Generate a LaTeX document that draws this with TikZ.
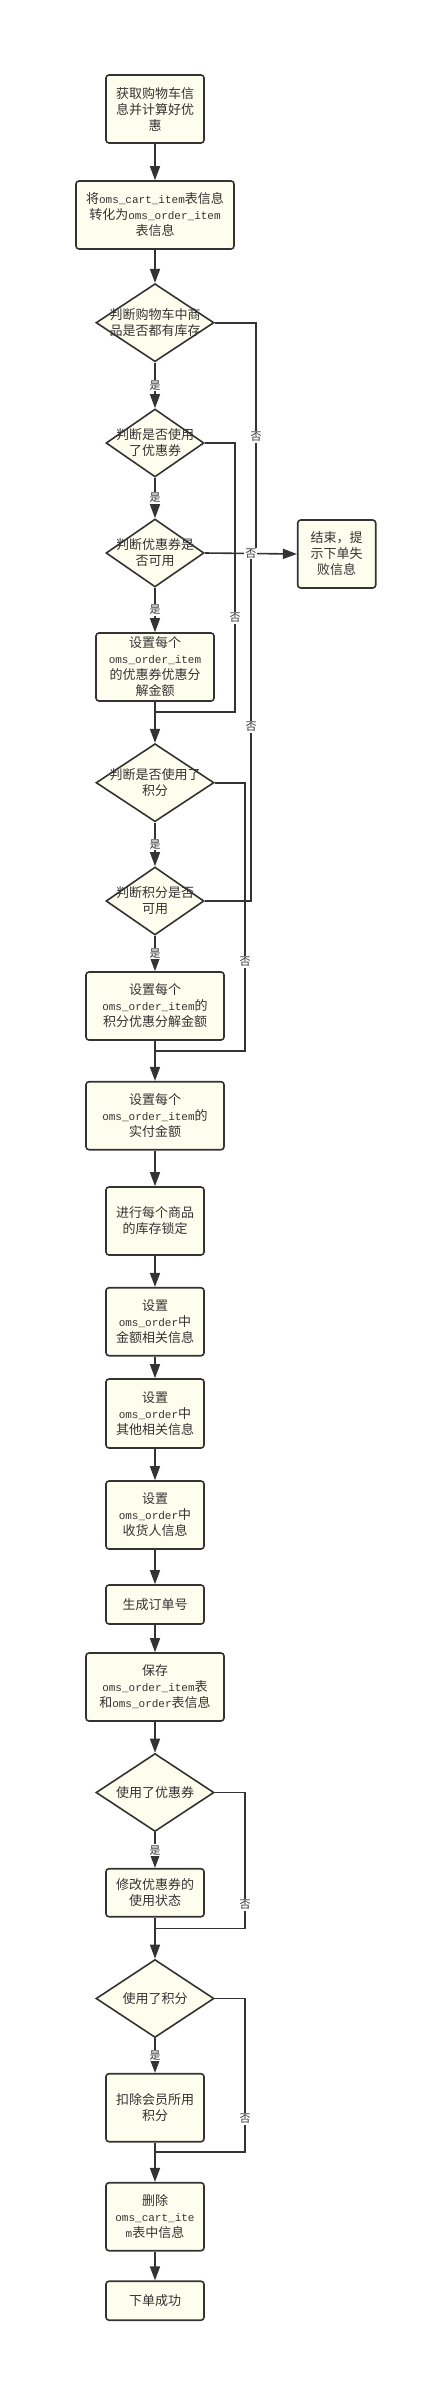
\documentclass[tikz,border=0pt]{standalone}
\usepackage{fontspec}
\setmainfont{Noto Sans CJK SC}
\newfontfamily\monof{Liberation Mono}
\usetikzlibrary{shapes.geometric,arrows.meta}
\definecolor{lncol}{HTML}{333333}
\definecolor{bxcol}{HTML}{FEFEEE}
\newcommand\omono[1]{{\monof\fontsize{11}{16}\selectfont #1}}
\tikzset{
  box/.style={draw=lncol, fill=bxcol, line width=1.6pt, rounded corners=3pt, text=lncol,
    font=\fontsize{13}{16}\selectfont, align=center, inner sep=0pt},
  dia/.style={draw=lncol, fill=bxcol, line width=1.6pt, diamond, inner sep=0pt},
  dtxt/.style={text=lncol, font=\fontsize{13}{16}\selectfont, align=center, inner sep=0pt},
  lbl/.style={fill=white, text=lncol, font=\fontsize{11}{13}\selectfont, inner sep=1pt},
  conn/.style={draw=lncol, line width=1.6pt},
  arr/.style={conn, -{Triangle[length=14pt,width=10pt]}},
}
\begin{document}
\begin{tikzpicture}[x=1pt,y=-1pt]
\path[use as bounding box, fill=white] (0,0) rectangle (438,2382);

% nodes
\node[box, minimum width=98, minimum height=68] (n1) at (155,109) {获取购物车信\\息并计算好优\\惠};
\node[box, minimum width=158, minimum height=68] (n2) at (155,215) {将\omono{oms\_cart\_item}表信息\\转化为\omono{oms\_order\_item}\\表信息};
\node[dia, minimum width=118, minimum height=78] (d1) at (155,322.7) {};
\node[dtxt] (d1t) at (d1) {判断购物车中商\\品是否都有库存};
\node[dia, minimum width=98, minimum height=68] (d2) at (155,443) {};
\node[dtxt] (d2t) at (d2) {判断是否使用\\了优惠券};
\node[dia, minimum width=98, minimum height=68] (d3) at (155,553) {};
\node[dtxt] (d3t) at (d3) {判断优惠券是\\否可用};
\node[box, minimum width=118, minimum height=68] (n3) at (155,667) {设置每个\\\omono{oms\_order\_item}\\的优惠券优惠分\\解金额};
\node[box, minimum width=78, minimum height=68] (fail) at (336.7,554) {结束，提\\示下单失\\败信息};
\node[dia, minimum width=118, minimum height=78] (d4) at (155,782.7) {};
\node[dtxt] (d4t) at (d4) {判断是否使用了\\积分};
\node[dia, minimum width=98, minimum height=68] (d5) at (155,901) {};
\node[dtxt] (d5t) at (d5) {判断积分是否\\可用};
\node[box, minimum width=138, minimum height=68] (n4) at (155,1006) {设置每个\\\omono{oms\_order\_item}的\\积分优惠分解金额};
\node[box, minimum width=138, minimum height=68] (n5) at (155,1115.7) {设置每个\\\omono{oms\_order\_item}的\\实付金额};
\node[box, minimum width=98, minimum height=68] (n6) at (155,1221) {进行每个商品\\的库存锁定};
\node[box, minimum width=98, minimum height=68] (n7) at (155,1321.7) {设置\\\omono{oms\_order}中\\金额相关信息};
\node[box, minimum width=98, minimum height=69] (n8) at (155,1413.5) {设置\\\omono{oms\_order}中\\其他相关信息};
\node[box, minimum width=98, minimum height=68] (n9) at (155,1515) {设置\\\omono{oms\_order}中\\收货人信息};
\node[box, minimum width=98, minimum height=39] (n10) at (155,1604.5) {生成订单号};
\node[box, minimum width=138, minimum height=68] (n11) at (155,1687) {保存\\\omono{oms\_order\_item}表\\和\omono{oms\_order}表信息};
\node[dia, minimum width=118, minimum height=78] (d6) at (155,1792.5) {};
\node[dtxt] (d6t) at (d6) {使用了优惠券};
\node[box, minimum width=98, minimum height=48] (n12) at (155,1892.7) {修改优惠券的\\使用状态};
\node[dia, minimum width=118, minimum height=78] (d7) at (155,1998.5) {};
\node[dtxt] (d7t) at (d7) {使用了积分};
\node[box, minimum width=98, minimum height=68] (n13) at (155,2107.7) {扣除会员所用\\积分};
\node[box, minimum width=98, minimum height=68] (n14) at (155,2216.7) {删除\\\omono{oms\_cart\_ite}\\\omono{m}表中信息};
\node[box, minimum width=98, minimum height=39] (n15) at (155,2300.7) {下单成功};

% junction coordinates
\coordinate (j1) at (256,553);
\coordinate (j2) at (235,712);
\coordinate (j5) at (251,553);
\coordinate (j4) at (245,1051);
\coordinate (j6) at (245,1928.3);
\coordinate (j7) at (245,2151.7);

% main flow
\draw[arr] (n1) -- (n2);
\draw[arr] (n2) -- (d1);
\draw[arr] (d1) -- node[lbl]{是} (d2);
\draw[arr] (d2) -- node[lbl]{是} (d3);
\draw[arr] (d3) -- node[lbl]{是} (n3);
\draw[arr] (n3) -- (d4);
\draw[arr] (d4) -- node[lbl]{是} (d5);
\draw[arr] (d5) -- node[lbl]{是} (n4);
\draw[arr] (n4) -- (n5);
\draw[arr] (n5) -- (n6);
\draw[arr] (n6) -- (n7);
\draw[arr] (n7) -- (n8);
\draw[arr] (n8) -- (n9);
\draw[arr] (n9) -- (n10);
\draw[arr] (n10) -- (n11);
\draw[arr] (n11) -- (d6);
\draw[arr] (d6) -- node[lbl]{是} (n12);
\draw[arr] (n12) -- (d7);
\draw[arr] (d7) -- node[lbl]{是} (n13);
\draw[arr] (n13) -- (n14);
\draw[arr] (n14) -- (n15);

% "no" branches
\draw[conn] (d1.east) -| node[lbl, pos=0.748]{否} (j1);
\draw[conn] (d2.east) -| node[lbl, pos=0.825]{否} (j2) -- (j2 -| n3.south);
\draw[conn] (d5.east) -| node[lbl, pos=0.75]{否} (j5);
\draw[conn] (d4.east) -| node[lbl, pos=0.834]{否} (j4) -- (j4 -| n4.south);
\draw[conn] (d6.east) -| node[lbl, pos=0.914]{否} (j6) -- (j6 -| n12.south);
\draw[conn] (d7.east) -| node[lbl, pos=0.893]{否} (j7) -- (j7 -| n13.south);
\draw[arr] (d3.east) -- node[lbl]{否} (fail.west);
\end{tikzpicture}
\end{document}
